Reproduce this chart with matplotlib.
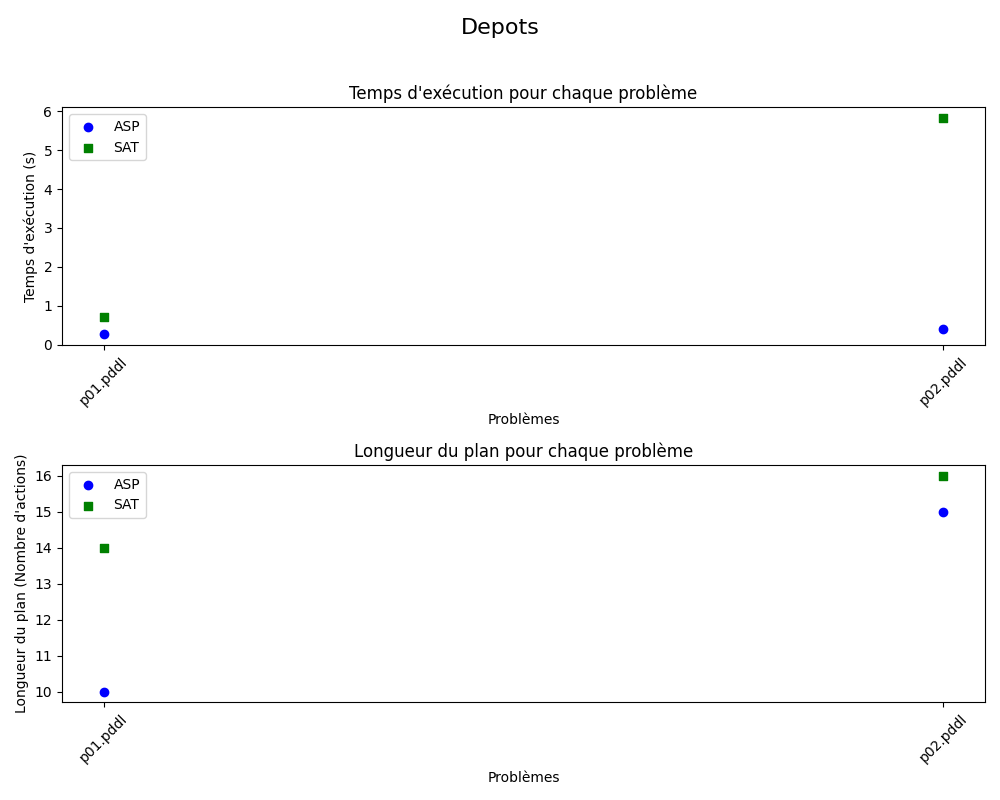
import matplotlib
matplotlib.use("Agg")
import matplotlib.pyplot as plt

# ── Data ─────────────────────────────────────────────────────────────────
problems = ["p01.pddl", "p02.pddl"]
asp_time = [0.275, 0.41]
sat_time = [0.71, 5.83]
asp_len = [10, 15]
sat_len = [14, 16]

fig, (ax1, ax2) = plt.subplots(2, 1, figsize=(10, 8))
fig.suptitle("Depots", fontsize=16, y=0.977)

# Temps d'exécution
ax1.scatter(problems, asp_time, color="blue", marker="o", label="ASP")
ax1.scatter(problems, sat_time, color="green", marker="s", label="SAT")
ax1.set_title("Temps d'exécution pour chaque problème")
ax1.set_xlabel("Problèmes")
ax1.set_ylabel("Temps d'exécution (s)")
ax1.tick_params(axis="x", rotation=45)
ax1.legend(loc="upper left")

# Longueur du plan
ax2.scatter(problems, asp_len, color="blue", marker="o", label="ASP")
ax2.scatter(problems, sat_len, color="green", marker="s", label="SAT")
ax2.set_title("Longueur du plan pour chaque problème")
ax2.set_xlabel("Problèmes")
ax2.set_ylabel("Longueur du plan (Nombre d'actions)")
ax2.tick_params(axis="x", rotation=45)
ax2.legend(loc="upper left")

fig.tight_layout(rect=[0, 0, 1, 0.957])
fig.savefig("out.png", dpi=100)
